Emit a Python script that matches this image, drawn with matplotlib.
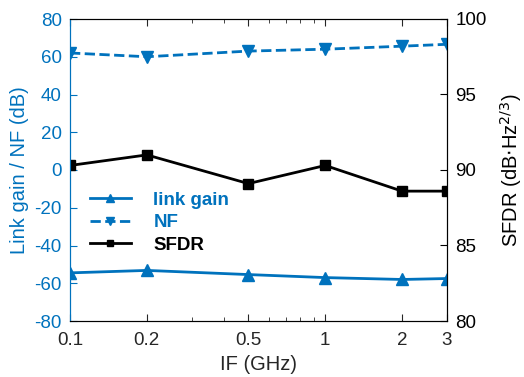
import matplotlib
matplotlib.use('Agg')
import matplotlib.pyplot as plt
from matplotlib.ticker import FixedLocator, NullFormatter

plt.rcParams['font.family'] = ['Liberation Sans', 'DejaVu Sans']
plt.rcParams['axes.unicode_minus'] = False

freq = [0.1, 0.2, 0.5, 1, 2, 3]
link_gain = [-54.5, -53.2, -55.4, -57.0, -58.0, -57.5]
nf = [62.0, 60.0, 63.0, 64.0, 65.6, 66.6]
sfdr = [90.3, 91.0, 89.1, 90.3, 88.6, 88.6]
xticks = [0.1, 0.2, 0.5, 1, 2, 3]
xticklabels = ['0.1', '0.2', '0.5', '1', '2', '3']

blue = '#0072BD'

fig = plt.figure(figsize=(5.24, 3.77), dpi=100)
ax = fig.add_axes([70 / 524, 56 / 377, 377 / 524, 302 / 377])
ax2 = ax.twinx()

l1, = ax.plot(freq, link_gain, '-', color=blue, marker='^', ms=9, lw=2, label='link gain')
l2, = ax.plot(freq, nf, '--', color=blue, marker='v', ms=9, lw=2, label='NF')
l3, = ax2.plot(freq, sfdr, '-', color='black', marker='s', ms=7, lw=2, label='SFDR')

ax.set_xscale('log')
ax.set_xlim(0.1, 3)
ax.xaxis.set_major_locator(FixedLocator(xticks))
ax.set_xticklabels(xticklabels)
ax.xaxis.set_minor_formatter(NullFormatter())
ax.set_ylim(-80, 80)
ax.set_yticks(range(-80, 81, 20))
ax2.set_ylim(80, 100)
ax2.set_yticks(range(80, 101, 5))

ax.set_xlabel('IF (GHz)', fontsize=14.5, color='#262626', labelpad=4)
ax.set_ylabel('Link gain / NF (dB)', fontsize=14.5, color=blue, labelpad=4)
ax2.set_ylabel(r'SFDR (dB$\cdot$Hz$^{2/3}$)', fontsize=14.5, color='black', labelpad=8)

ax.tick_params(axis='x', which='both', direction='in', top=True, labelsize=13.5, colors='#262626', pad=8)
ax.tick_params(axis='x', which='major', length=5)
ax.tick_params(axis='x', which='minor', length=3)
ax.tick_params(axis='y', direction='in', labelsize=13.5, colors=blue, length=5, pad=6)
ax2.tick_params(axis='y', direction='in', labelsize=13.5, colors='black', length=5, pad=6)

for s in ['top', 'bottom']:
    ax.spines[s].set_color('#262626')
ax.spines['left'].set_color(blue)
ax2.spines['left'].set_color(blue)
ax2.spines['right'].set_color('black')

leg = ax.legend(handles=[l1, l2, l3], loc='upper left', bbox_to_anchor=(0.007, 0.485),
                frameon=False, handlelength=2.2, labelspacing=0.3, markerscale=0.65,
                handletextpad=1.2, prop={'weight': 'bold', 'size': 13.5})
for t, c in zip(leg.get_texts(), [blue, blue, 'black']):
    t.set_color(c)

fig.savefig('out.png', dpi=100)
